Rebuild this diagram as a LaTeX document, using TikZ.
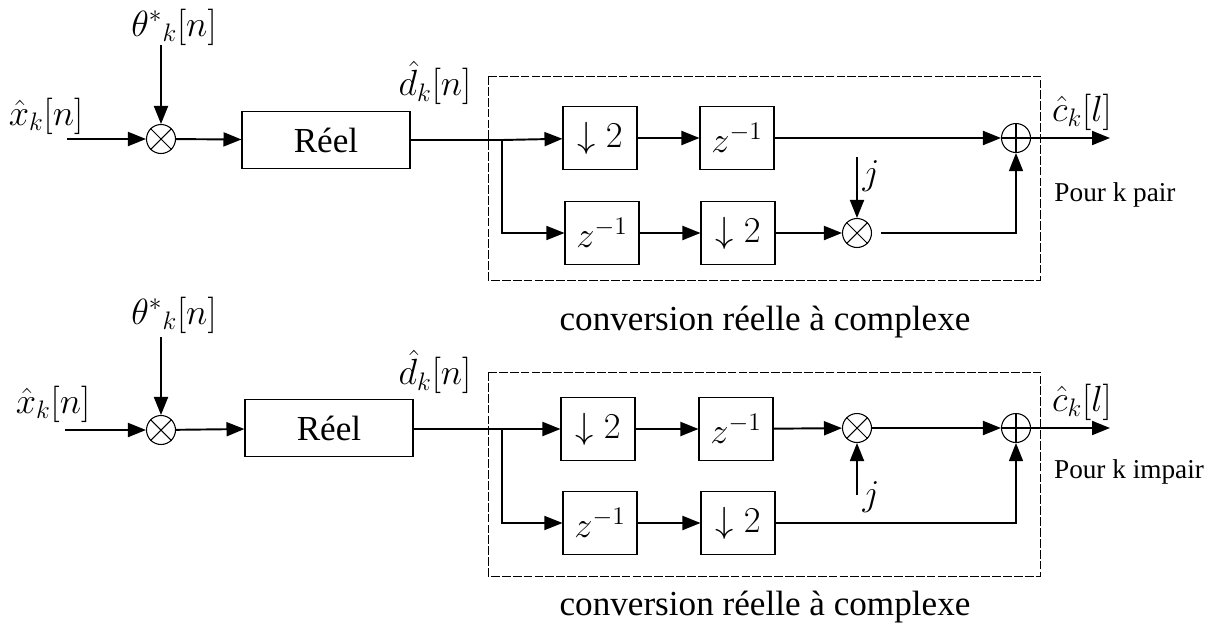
\documentclass[tikz,border=0pt]{standalone}
\usepackage{fontspec}
\setmainfont{Liberation Serif}
\usetikzlibrary{arrows.meta}

\begin{document}
\begin{tikzpicture}[x=0.02cm, y=-0.02cm, >={Triangle[length=0.36cm,width=0.28cm]},   % one unit = one pixel of the scan
    every node/.style={font=\fontsize{20}{24}\selectfont, inner sep=1pt},
    reelbox/.style={draw, line width=0.6pt, minimum width=3.36cm, minimum height=1.14cm, inner sep=0pt},
    blk/.style={draw, line width=0.6pt, minimum width=1.48cm, minimum height=1.26cm, inner sep=0pt},
    opcirc/.style={draw, circle, line width=0.6pt, minimum size=0.58cm, inner sep=0pt},
    sig/.style={line width=1.1pt},
    thinsig/.style={line width=0.7pt},
    convbox/.style={line width=0.5pt, dash pattern=on 5pt off 1.2pt},
    note/.style={font=\fontsize{15.5}{18}\selectfont}]
    \useasboundingbox (0,0) rectangle (1218,626);

    % ---------- k pair ----------
    \draw[convbox] (488,76) rectangle (1040,280);
    \coordinate (in1) at (67,139);
    \coordinate (th1) at (161,45);
    \coordinate (br1) at (502,140);
    \coordinate (j1) at (857,157);
    \coordinate (out1) at (1110,138);
    \node[opcirc] (mul1) at (161,139) {};
    \node[reelbox] (reel1) at (326,140) {Réel};
    \node[blk] (dn1) at (600,138) {$\downarrow 2$};
    \node[blk] (zt1) at (737,138) {$z^{-1}$};
    \node[blk] (zb1) at (602,233) {$z^{-1}$};
    \node[blk] (db1) at (738,233) {$\downarrow 2$};
    \node[opcirc] (mj1) at (857,233) {};
    \node[opcirc] (add1) at (1016,138) {};

    \node (xl1) at (46,116) {$\hat{x}_k[n]$};
    \node (tl1) at (174,27) {$\theta^{*}{}_{k}[n]$};
    \node (dl1) at (435,83) {$\hat{d}_k[n]$};
    \node (jl1) at (871,176) {$j$};
    \node (cl1) at (1082,112) {$\hat{c}_k[l]$};
    \node[note] (pl1) at (1115,195) {Pour k pair};
    \node (cv1) at (765,322) {conversion réelle à complexe};

    \draw[sig,->] (in1) -- (mul1);
    \draw[sig,->] (th1) -- (mul1);
    \draw[sig,->] (mul1) -- (reel1);
    \draw[sig] (reel1.east |- br1) -- (br1);
    \draw[sig,->] (br1) -- (dn1);
    \draw[thinsig,->] (br1) |- (zb1);
    \draw[sig,->] (dn1) -- (zt1);
    \draw[sig,->] (zb1) -- (db1);
    \draw[sig,->] (zt1) -- (add1);
    \draw[sig,->] (db1) -- (mj1);
    \draw[sig,->] (j1) -- (mj1);
    \draw[thinsig,->] (mj1.east) [shorten <=5pt] -| (add1);
    \draw[sig,->] (add1) -- (out1);

    % ---------- k impair ----------
    \draw[convbox] (488,372) rectangle (1040,576);
    \coordinate (in2) at (65,430);
    \coordinate (th2) at (161,337);
    \coordinate (br2) at (502,429);
    \coordinate (j2) at (857,495);
    \coordinate (out2) at (1110,428);
    \node[opcirc] (mul2) at (161,430) {};
    \node[reelbox] (reel2) at (329,428) {Réel};
    \node[blk] (dn2) at (598,429) {$\downarrow 2$};
    \node[blk] (zt2) at (736,429) {$z^{-1}$};
    \node[blk] (zb2) at (600,523) {$z^{-1}$};
    \node[blk] (db2) at (738,523) {$\downarrow 2$};
    \node[opcirc] (mj2) at (857,428) {};
    \node[opcirc] (add2) at (1016,428) {};

    \node (xl2) at (53,404) {$\hat{x}_k[n]$};
    \node (tl2) at (174,315) {$\theta^{*}{}_{k}[n]$};
    \node (dl2) at (435,372) {$\hat{d}_k[n]$};
    \node (jl2) at (871,497) {$j$};
    \node (cl2) at (1082,402) {$\hat{c}_k[l]$};
    \node[note] (pl2) at (1129,472) {Pour k impair};
    \node (cv2) at (765,607) {conversion réelle à complexe};

    \draw[sig,->] (in2) -- (mul2);
    \draw[sig,->] (th2) -- (mul2);
    \draw[sig,->] (mul2) -- (reel2);
    \draw[sig] (reel2.east |- br2) -- (br2);
    \draw[sig,->] (br2) -- (dn2);
    \draw[thinsig,->] (br2) |- (zb2);
    \draw[sig,->] (dn2) -- (zt2);
    \draw[sig,->] (zb2) -- (db2);
    \draw[sig,->] (zt2) -- (mj2);
    \draw[sig,->] (mj2) -- (add2);
    \draw[sig,->] (j2) -- (mj2);
    \draw[thinsig,->] (db2) -| (add2);
    \draw[sig,->] (add2) -- (out2);

    % crosses in the circles
    \foreach \m in {mul1,mj1,mul2,mj2}
        \draw[line width=0.6pt] (\m.45) -- (\m.225) (\m.135) -- (\m.315);
    \foreach \a in {add1,add2}
        \draw[line width=0.6pt] (\a.north) -- (\a.south) (\a.west) -- (\a.east);
\end{tikzpicture}
\end{document}
